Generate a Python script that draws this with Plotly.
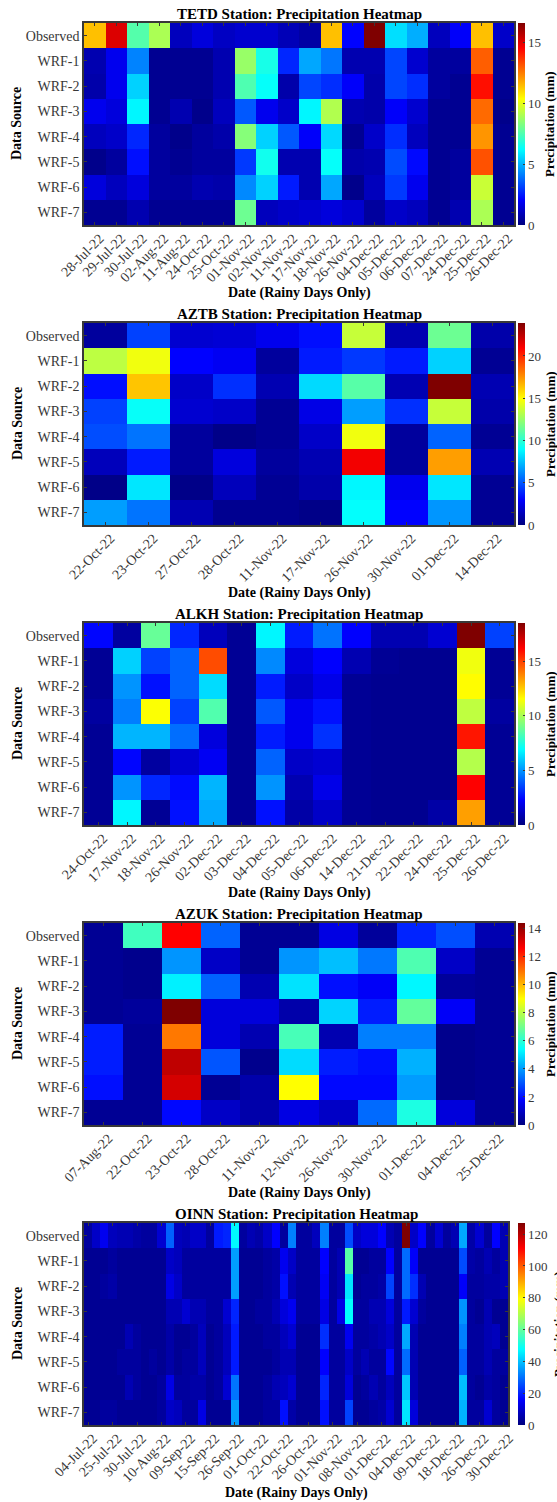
import plotly.graph_objects as go

SOURCES = ["Observed", "WRF-1", "WRF-2", "WRF-3", "WRF-4", "WRF-5", "WRF-6", "WRF-7"]

tetd_dates = ["28-Jul-22", "29-Jul-22", "30-Jul-22", "02-Aug-22", "11-Aug-22", "24-Oct-22", "25-Oct-22", "01-Nov-22", "02-Nov-22", "11-Nov-22", "17-Nov-22", "18-Nov-22", "26-Nov-22", "04-Dec-22", "05-Dec-22", "06-Dec-22", "07-Dec-22", "24-Dec-22", "25-Dec-22", "26-Dec-22"]
tetd_values = [
    [11.4, 15.1, 7.6, 9.0, 1.0, 1.5, 1.1, 1.3, 1.3, 0.9, 0.6, 11.4, 2.1, 16.6, 5.7, 4.9, 1.0, 2.0, 11.4, 1.2],
    [0.8, 1.8, 4.2, 0.3, 0.3, 0.3, 0.8, 8.7, 6.6, 2.7, 4.8, 4.0, 0.8, 0.8, 3.2, 1.3, 0.5, 0.5, 13.0, 0.3],
    [0.7, 1.8, 5.5, 0.3, 0.3, 0.3, 0.8, 7.5, 6.3, 0.7, 3.2, 2.8, 2.0, 0.7, 3.2, 2.8, 0.5, 0.3, 14.3, 0.3],
    [1.8, 1.5, 6.1, 0.3, 0.8, 0.2, 1.0, 3.5, 1.8, 1.2, 6.1, 9.1, 0.8, 0.7, 2.0, 1.3, 0.3, 0.3, 12.8, 0.2],
    [1.0, 1.2, 2.7, 0.5, 0.2, 0.5, 0.7, 8.4, 5.5, 3.5, 2.0, 5.6, 0.3, 1.2, 2.8, 1.0, 0.3, 0.3, 12.1, 0.3],
    [0.2, 0.5, 2.3, 0.5, 0.3, 0.5, 0.5, 3.0, 6.5, 0.8, 0.8, 6.3, 0.7, 0.8, 3.3, 2.2, 0.3, 0.5, 13.2, 0.3],
    [1.5, 1.0, 1.5, 0.5, 0.5, 0.8, 0.7, 4.3, 5.5, 2.5, 0.8, 4.8, 0.2, 1.0, 3.0, 1.8, 0.3, 0.5, 9.5, 0.3],
    [0.3, 0.3, 0.8, 0.3, 0.3, 0.3, 0.3, 8.0, 1.0, 1.2, 1.3, 1.5, 1.3, 0.5, 1.2, 1.0, 0.3, 0.8, 9.0, 0.3],
]

aztb_dates = ["22-Oct-22", "23-Oct-22", "27-Oct-22", "28-Oct-22", "11-Nov-22", "17-Nov-22", "26-Nov-22", "30-Nov-22", "01-Dec-22", "14-Dec-22"]
aztb_values = [
    [0.7, 4.5, 1.9, 2.0, 2.6, 3.3, 13.6, 1.2, 11.5, 1.0],
    [13.4, 14.6, 3.0, 2.7, 0.7, 3.6, 4.3, 3.6, 7.9, 0.5],
    [3.3, 16.3, 1.7, 4.1, 1.2, 8.1, 11.0, 1.2, 23.9, 1.2],
    [4.5, 9.1, 1.9, 1.7, 0.5, 2.4, 6.7, 4.1, 13.6, 1.0],
    [4.8, 5.7, 0.7, 0.2, 0.5, 1.7, 14.6, 0.7, 5.3, 0.5],
    [1.4, 3.6, 0.7, 2.2, 0.7, 1.2, 21.2, 0.7, 17.2, 1.2],
    [0.2, 8.4, 0.2, 1.4, 0.5, 1.0, 8.8, 2.6, 8.4, 0.5],
    [6.7, 5.7, 1.2, 0.4, 0.4, 0.2, 9.0, 3.0, 6.5, 0.5],
]

alkh_dates = ["24-Oct-22", "17-Nov-22", "18-Nov-22", "26-Nov-22", "02-Dec-22", "03-Dec-22", "04-Dec-22", "05-Dec-22", "06-Dec-22", "14-Dec-22", "21-Dec-22", "22-Dec-22", "24-Dec-22", "25-Dec-22", "26-Dec-22"]
alkh_values = [
    [2.4, 0.6, 8.8, 3.0, 1.1, 0.4, 6.8, 2.8, 4.4, 2.3, 0.9, 0.9, 1.5, 18.5, 3.5],
    [0.4, 6.1, 3.5, 4.1, 14.8, 0.4, 4.8, 1.7, 2.3, 0.9, 0.4, 0.3, 0.3, 11.3, 0.4],
    [0.4, 5.0, 2.6, 4.1, 6.3, 0.4, 2.8, 1.3, 1.9, 0.4, 0.3, 0.3, 0.3, 11.6, 0.4],
    [0.6, 4.6, 11.5, 3.5, 8.4, 0.4, 3.9, 2.0, 2.6, 0.4, 0.3, 0.3, 0.3, 10.4, 0.6],
    [0.4, 5.6, 5.6, 4.3, 1.7, 0.4, 2.8, 2.0, 3.2, 0.4, 0.3, 0.3, 0.3, 15.8, 0.4],
    [0.4, 2.4, 0.6, 1.5, 2.1, 0.4, 4.1, 1.3, 1.5, 0.4, 0.3, 0.3, 0.3, 10.2, 0.4],
    [0.4, 5.0, 3.0, 2.5, 5.6, 0.4, 5.0, 0.9, 1.9, 0.4, 0.3, 0.3, 0.3, 16.2, 0.4],
    [0.4, 6.8, 0.4, 2.6, 5.4, 0.4, 2.6, 0.7, 1.3, 0.4, 0.3, 0.3, 0.7, 13.3, 0.4],
]

azuk_dates = ["07-Aug-22", "22-Oct-22", "23-Oct-22", "28-Oct-22", "11-Nov-22", "12-Nov-22", "26-Nov-22", "30-Nov-22", "01-Dec-22", "04-Dec-22", "25-Dec-22"]
azuk_values = [
    [0.3, 6.3, 12.6, 3.2, 0.3, 0.3, 1.4, 0.4, 2.3, 2.9, 0.7],
    [0.3, 0.2, 3.9, 1.0, 0.3, 3.9, 4.5, 3.5, 6.5, 1.0, 0.3],
    [0.3, 0.2, 5.2, 3.2, 0.7, 5.0, 2.0, 1.7, 5.3, 0.4, 0.3],
    [0.3, 0.4, 14.4, 1.3, 1.3, 0.6, 4.8, 2.2, 6.8, 1.7, 0.3],
    [2.2, 0.3, 10.9, 1.3, 0.7, 6.4, 0.7, 3.6, 3.6, 0.2, 0.3],
    [2.2, 0.3, 13.5, 3.0, 0.2, 4.9, 2.2, 2.0, 4.3, 0.2, 0.3],
    [2.0, 0.3, 13.2, 0.3, 0.6, 9.0, 1.9, 1.9, 4.0, 0.2, 0.3],
    [0.3, 0.3, 1.9, 1.0, 0.6, 1.4, 1.0, 3.3, 5.8, 1.3, 0.3],
]

oinn_dates = ["04-Jul-22", "25-Jul-22", "30-Jul-22", "10-Aug-22", "09-Sep-22", "15-Sep-22", "26-Sep-22", "01-Oct-22", "22-Oct-22", "26-Oct-22", "01-Nov-22", "08-Nov-22", "01-Dec-22", "04-Dec-22", "09-Dec-22", "18-Dec-22", "26-Dec-22", "30-Dec-22"]
oinn_values = [
    [3.8, 8.9, 14, 7.6, 6.4, 6.4, 5, 3.8, 3.8, 10.2, 28, 7.6, 6.4, 8.9, 8.9, 3.8, 19, 20.3, 47, 3.8, 6.4, 5, 8.9, 15.9, 3.8, 31.8, 3.8, 3.8, 7.6, 31.8, 3.8, 3.8, 25.4, 8.9, 11.4, 11.4, 15.9, 6.4, 3.8, 127, 8.9, 15.9, 3.8, 10.2, 3.8, 6.4, 36.8, 5, 10.2, 3.8, 15.9, 6.4],
    [2.5, 2.5, 2.5, 3.8, 2.5, 2.5, 2.5, 2.5, 2.5, 2.5, 8.9, 7.6, 3.8, 3.8, 3.8, 3.8, 3.8, 3.8, 35.6, 2.5, 2.5, 2.5, 3.8, 5, 14, 8.9, 3.8, 3.8, 3.8, 15.9, 3.8, 6.4, 58.4, 2.5, 2.5, 3.8, 3.8, 15.9, 3.8, 29.2, 15.2, 2.5, 2.5, 2.5, 2.5, 2.5, 25.4, 5, 3.8, 6.4, 3.8, 6.4],
    [2.5, 2.5, 3.8, 5, 2.5, 2.5, 2.5, 2.5, 2.5, 2.5, 12.7, 8.9, 3.8, 3.8, 3.8, 3.8, 3.8, 3.8, 35.6, 2.5, 2.5, 2.5, 3.8, 5, 17.8, 6.4, 3.8, 3.8, 3.8, 14.6, 3.8, 6.4, 44.5, 2.5, 3.8, 3.8, 5, 24.1, 3.8, 29.2, 21.6, 6.4, 2.5, 2.5, 2.5, 2.5, 15.2, 3.8, 3.8, 5, 5, 6.4],
    [2.5, 2.5, 2.5, 2.5, 2.5, 2.5, 2.5, 2.5, 2.5, 2.5, 6.4, 6.4, 10.2, 6.4, 6.4, 3.8, 3.8, 10.2, 20.3, 2.5, 2.5, 3.8, 3.8, 6.4, 11.4, 14, 3.8, 3.8, 3.8, 12.7, 3.8, 12.7, 47.6, 3.8, 3.8, 6.4, 6.4, 11.4, 3.8, 19, 10.2, 3.8, 2.5, 2.5, 2.5, 2.5, 34.3, 3.8, 2.5, 6.4, 2.5, 2.5],
    [2.5, 2.5, 2.5, 2.5, 2.5, 6.4, 3.8, 2.5, 2.5, 2.5, 5, 2.5, 2.5, 3.8, 7.6, 2.5, 3.8, 7.6, 19, 2.5, 2.5, 2.5, 3.8, 3.8, 7.6, 10.2, 2.5, 2.5, 2.5, 21.6, 3.8, 3.8, 14, 3.8, 3.8, 5, 6.4, 8.9, 3.8, 36.8, 6.4, 2.5, 2.5, 2.5, 2.5, 2.5, 31.8, 3.8, 3.8, 6.4, 7.6, 2.5],
    [2.5, 2.5, 2.5, 2.5, 3.8, 3.8, 3.8, 2.5, 3.8, 2.5, 5, 2.5, 3.8, 3.8, 7.6, 2.5, 3.8, 7.6, 19, 2.5, 2.5, 2.5, 2.5, 3.8, 6.4, 6.4, 2.5, 2.5, 2.5, 15.9, 3.8, 3.8, 8.9, 3.8, 6.4, 3.8, 3.8, 16.5, 3.8, 29.2, 6.4, 2.5, 2.5, 2.5, 2.5, 2.5, 28, 3.8, 3.8, 6.4, 3.8, 3.8],
    [2.5, 2.5, 2.5, 2.5, 2.5, 6.4, 3.8, 2.5, 2.5, 3.8, 12.7, 3.8, 3.8, 5, 5, 2.5, 3.8, 10.2, 30.5, 2.5, 2.5, 2.5, 3.8, 6.4, 7.6, 10.2, 2.5, 2.5, 2.5, 20.3, 3.8, 3.8, 11.4, 2.5, 3.8, 6.4, 3.8, 7.6, 3.8, 40.6, 6.4, 2.5, 2.5, 2.5, 2.5, 2.5, 39.4, 3.8, 2.5, 5, 3.8, 2.5],
    [2.5, 2.5, 3.8, 3.8, 2.5, 2.5, 2.5, 2.5, 2.5, 3.8, 8.9, 7.6, 3.8, 3.8, 12.7, 2.5, 2.5, 2.5, 35.6, 2.5, 2.5, 2.5, 3.8, 3.8, 17.8, 5, 2.5, 2.5, 2.5, 17.8, 3.8, 3.8, 24.1, 2.5, 2.5, 3.8, 5, 10.2, 3.8, 44.5, 11.4, 2.5, 2.5, 2.5, 2.5, 2.5, 38.1, 3.8, 3.8, 10.2, 3.8, 2.5],
]

JET = [[0, "#00007f"], [0.125, "#0000ff"], [0.375, "#00ffff"], [0.625, "#ffff00"], [0.875, "#ff0000"], [1, "#7f0000"]]
SERIF = "Liberation Serif"
DARK = "#383838"
W, H = 557, 1502

panels = [
    ("TETD Station: Precipitation Heatmap", tetd_dates, tetd_values, 16.6, [0, 5, 10, 15], 514, 23, 1),
    ("AZTB Station: Precipitation Heatmap", aztb_dates, aztb_values, 23.9, [0, 5, 10, 15, 20], 514, 323, 1),
    ("ALKH Station: Precipitation Heatmap", alkh_dates, alkh_values, 18.5, [0, 5, 10, 15], 514, 623, 1),
    ("AZUK Station: Precipitation Heatmap", azuk_dates, azuk_values, 14.4, [0, 2, 4, 6, 8, 10, 12, 14], 514, 923, 1),
    ("OINN Station: Precipitation Heatmap", oinn_dates, oinn_values, 127, [0, 20, 40, 60, 80, 100, 120], 508, 1223, 3),
]
LEFT = 84
PLOT_H = 202

fig = go.Figure()
annotations = []
for i, (title, dates, values, vmax, cticks, right, top, step) in enumerate(panels):
    n = "" if i == 0 else str(i + 1)
    bottom = top + PLOT_H
    cols = list(range(len(values[0])))
    fig.add_trace(go.Heatmap(
        z=values, x=cols, y=list(range(8)), xaxis="x" + n, yaxis="y" + n,
        colorscale=JET, zmin=0, zmax=vmax,
        colorbar=dict(
            x=518 / W, xanchor="left", xpad=0, ypad=0, thickness=7, thicknessmode="pixels",
            y=1 - (top + PLOT_H / 2) / H, yanchor="middle", len=PLOT_H / H, lenmode="fraction",
            tickvals=cticks, ticks="inside", ticklen=2, tickwidth=1, tickcolor=DARK,
            outlinewidth=0, tickfont=dict(family=SERIF, size=13, color=DARK),
        ),
    ))
    axis = dict(
        ticks="inside", ticklen=3, tickwidth=1, tickcolor=DARK, automargin=False,
        showline=True, linecolor=DARK, linewidth=1.5, mirror="ticks", showgrid=False, zeroline=False,
        tickfont=dict(family=SERIF, size=14, color=DARK), tickmode="array",
    )
    fig.update_layout({
        "xaxis" + n: dict(
            axis, domain=[LEFT / W, right / W], anchor="y" + n, range=[-0.5, len(cols) - 0.5],
            tickvals=cols[::step], ticktext=dates, tickangle=-45,
            ticklabelshift=5, ticklabelstandoff=-2,
        ),
        "yaxis" + n: dict(
            axis, domain=[1 - bottom / H, 1 - top / H], anchor="x" + n, range=[7.5, -0.5],
            tickvals=list(range(8)), ticktext=SOURCES,
        ),
    })
    cx = (LEFT + right) / 2
    cy = (top + bottom) / 2
    bold = lambda size: dict(family=SERIF, size=size, color="#000000")
    annotations += [
        dict(text="<b>%s</b>" % title, x=cx / W, y=1 - (top - 9) / H, font=bold(15)),
        dict(text="<b>Date (Rainy Days Only)</b>", x=cx / W, y=1 - (bottom + 68) / H, font=bold(14)),
        dict(text="<b>Data Source</b>", x=17 / W, y=1 - cy / H, textangle=-90, font=bold(14)),
        dict(text="<b>Precipitation (mm)</b>", x=(558 if i == 4 else 550) / W, y=1 - cy / H,
             textangle=-90, font=bold(13)),
    ]

for a in annotations:
    a.update(xref="paper", yref="paper", xanchor="center", yanchor="middle", showarrow=False)

fig.update_layout(
    width=W, height=H, autosize=False, margin=dict(l=0, r=0, t=0, b=0),
    paper_bgcolor="#ffffff", plot_bgcolor="#ffffff", annotations=annotations, showlegend=False,
)
fig.write_html("out.html", config={"displayModeBar": False},
               post_script="document.body.style.margin='0';document.body.style.overflow='hidden';")
